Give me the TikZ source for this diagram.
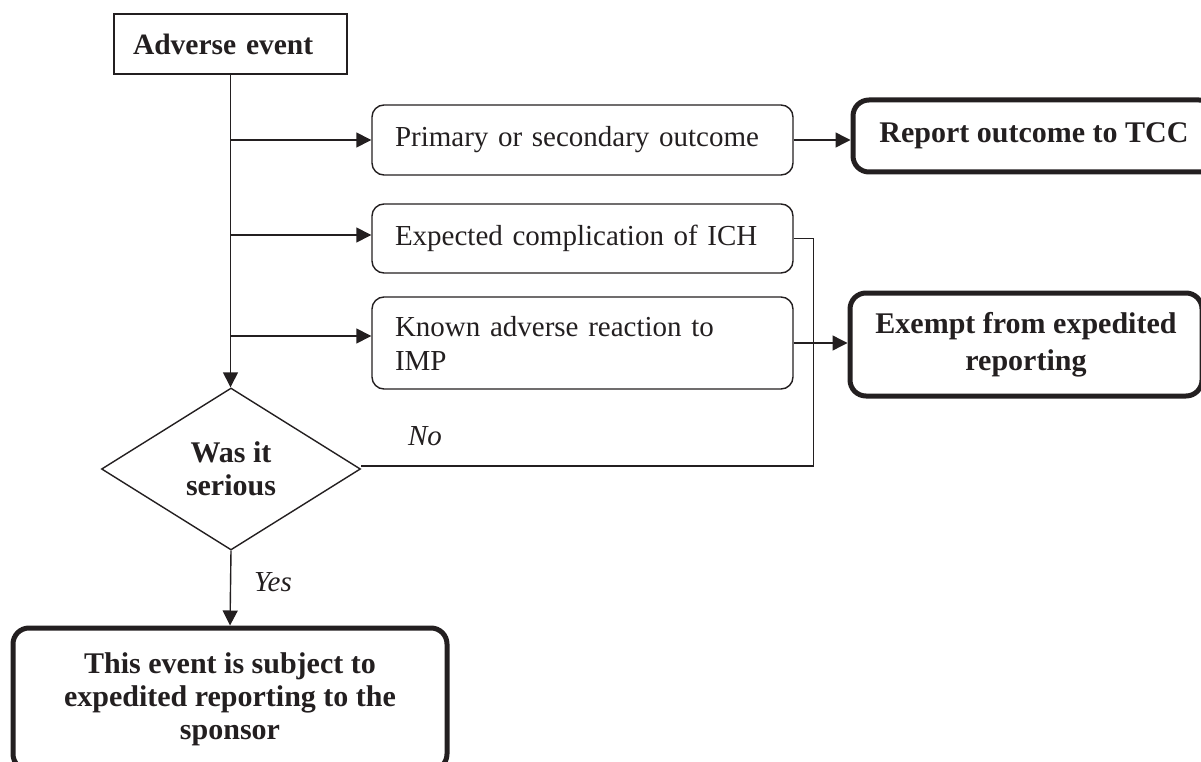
\documentclass[tikz,border=0pt]{standalone}
\usepackage{fontspec}
\setmainfont{Liberation Serif}
\usetikzlibrary{shapes.geometric,arrows.meta,positioning}
\definecolor{ink}{HTML}{231F20}
\begin{document}
\begin{tikzpicture}[x=1pt,y=-1pt,
  every node/.style={text=ink},
  base/.style={draw=ink, line width=1.4pt, inner ysep=0pt, font=\fontsize{29}{34}\selectfont},
  softbox/.style={base, rounded corners=12pt, inner xsep=23pt, text width=375pt, align=left, minimum height=#1},
  heavybox/.style={base, line width=5pt, rounded corners=16pt, align=center, font=\bfseries\fontsize{30}{35}\selectfont},
  decision/.style={base, diamond, inner sep=0pt, minimum width=259pt, minimum height=162pt, align=center, font=\bfseries\fontsize{30}{33}\selectfont},
  lbl/.style={font=\itshape\fontsize{29}{34}\selectfont, inner sep=0pt},
  line/.style={draw=ink, line width=1.4pt},
  arr/.style={line, -{Triangle[length=15pt,width=15pt]}}
]
\useasboundingbox (0,0) rectangle (1201,762);

\node[base, inner xsep=19pt, text width=195pt, align=left, minimum height=60pt, font=\bfseries\fontsize{29.5}{34}\selectfont] (adv) at (230.5,44) {Adverse event};

\node[softbox=70pt] (prim) at (582.5,140) {Primary or secondary outcome};
\node[softbox=69pt] (expc) at (582.5,238.5) {Expected complication of ICH};
\node[softbox=92pt] (known) at (582.5,343) {Known adverse reaction to\\IMP};

\node[heavybox, minimum width=362pt, minimum height=72pt] (rep) at (1034,136) {Report outcome to TCC};
\node[heavybox, minimum width=352pt, minimum height=103pt, font=\bfseries\fontsize{30}{37}\selectfont] (exe) at (1026,344.5) {Exempt from expedited\\reporting};

\node[decision] (dia) at (231,469) {Was it\\serious};

\node[heavybox, minimum width=434pt, minimum height=142pt, font=\bfseries\fontsize{30}{33}\selectfont] (bot) at (230,699) {This event is subject to\\expedited reporting to the\\sponsor};

\node[lbl] (no) at (425,436) {No};
\node[lbl] (yes) at (273,582) {Yes};

\coordinate (expin) at ([yshift=3.5pt]expc.west);
\coordinate (knownin) at ([yshift=7pt]known.west);
\coordinate (diain) at ([yshift=3pt]dia.east);

% trunk
\draw[arr] (adv.south) -- (adv.south |- dia.north);
\draw[arr] (adv.south |- prim.west) -- (prim.west);
\draw[arr] (adv.south |- expin) -- (expin);
\draw[arr] (adv.south |- knownin) -- (knownin);

% to outcomes
\draw[arr] (prim.east) -- (prim.east -| rep.west);
\draw[arr] (known.east) -- (known.east -| exe.west);

% No branch
\draw[line] (expc.east) -- ++(20,0) |- (diain);

% Yes branch
\draw[arr] (dia.south) -- (bot.north);
\end{tikzpicture}
\end{document}
